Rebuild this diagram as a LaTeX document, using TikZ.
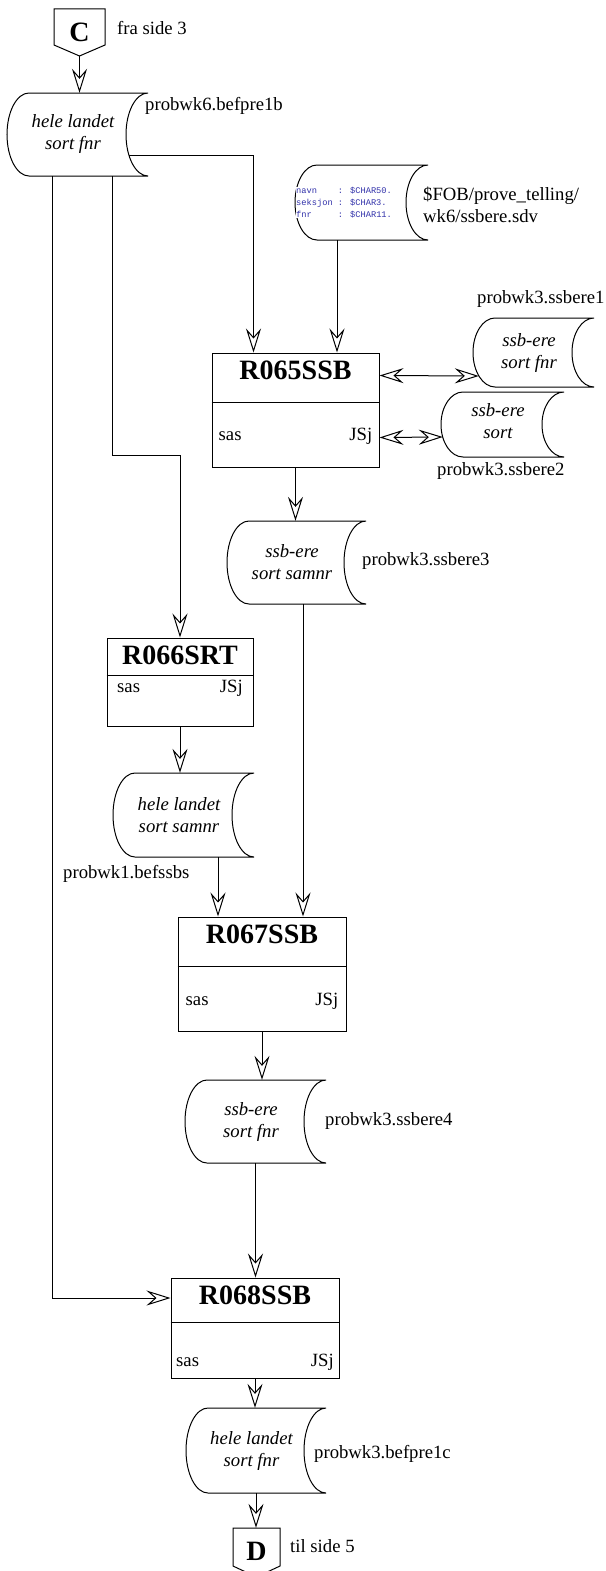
\documentclass[tikz,border=0pt]{standalone}
\usepackage{fontspec}
\setmainfont{Liberation Serif}
\newfontfamily\codefont{Liberation Mono}
\usetikzlibrary{arrows.meta}
\definecolor{codeblue}{RGB}{50,50,170}
\tikzset{
  line/.style={line width=1pt},
  tipstyle/.style={},
  arr/.style={line, -{Stealth[open,length=24pt,width=15pt,inset=8.5pt]}},
  dbl/.style={line, {Stealth[open,length=24pt,width=15pt,inset=8.5pt]}-{Stealth[open,length=24pt,width=15pt,inset=8.5pt]}},
  lbl/.style={font=\fontsize{18.7}{22}\selectfont, inner sep=0, anchor=base west},
  storetext/.style={font=\fontsize{18.7}{22}\selectfont\itshape, align=center, inner sep=0},
  title/.style={font=\fontsize{28}{30}\selectfont\bfseries, inner sep=0, anchor=base},
  procframe/.style={line, draw, inner sep=0},
  region/.style={inner sep=0},
}
% storage outline: name, x left bulge, x right corner, y top, y bottom
\newcommand\storeoutline[5]{%
  \node[region, minimum width={(#3-#2)*1pt}, minimum height={(#5-#4)*1pt}] (#1) at ({(#2+#3)/2},{(#4+#5)/2}) {};
  \draw[line] (#2+22,#4) -- (#3,#4)
    arc[start angle=90,end angle=270,x radius=22pt,y radius={(#5-#4)/2*1pt}]
    -- (#2+22,#5)
    arc[start angle=270,end angle=90,x radius=22pt,y radius={(#5-#4)/2*1pt}]
    -- cycle;
}
% process box: name, xl, xr, yt, yb, ydiv, title, sas baseline, inset
\newcommand\procbox[9]{%
  \node[procframe, minimum width={(#3-#2)*1pt}, minimum height={(#5-#4)*1pt}] (#1) at ({(#2+#3)/2},{(#4+#5)/2}) {};
  \draw[line] (#1.west |- 0,#6) -- (#1.east |- 0,#6);
  \node[title] (#1-title) at ({(#2+#3)/2},#4+26) {#7};
  \node[lbl] (#1-sas) at (#2+#9,#8) {sas};
  \node[lbl, anchor=base east] (#1-jsj) at (#3-#9,#8) {JSj};
}
\begin{document}
\begin{tikzpicture}[x=1pt,y=-1pt]
\useasboundingbox (0,0) rectangle (605,1571);

% off-page connectors
\draw[line] (54,9) -- (105,9) -- (105,45) -- (79.5,56) -- (54,45) -- cycle;
\node[region, minimum width=51pt, minimum height=47pt, font=\fontsize{28}{30}\selectfont\bfseries] (C) at (79.5,32.5) {C};
\draw[line] (233,1528) -- (280,1528) -- (280,1566) -- (256.5,1577) -- (233,1566) -- cycle;
\node[region, minimum width=47pt, minimum height=46pt, font=\fontsize{28}{30}\selectfont\bfseries] (D) at (256.5,1551) {D};

% storages
\storeoutline{S1}{7}{148}{93}{176}
\node[storetext] (S1t) at ([xshift=-4.5pt]S1.center) {hele landet\\sort fnr};
\storeoutline{S0}{295}{428}{165}{240}
\node[font=\codefont\fontsize{8.7}{12}\selectfont, text=codeblue, align=left, inner sep=0, fill=white, anchor=north west] (S0t) at (296,187)
  {navn\ \ \ \ : \$CHAR50.\\seksjon : \$CHAR3.\\fnr\ \ \ \ \ : \$CHAR11.};
\storeoutline{Sss1}{473}{594}{318}{387}
\node[storetext] (Sss1t) at ([xshift=-4.5pt]Sss1.center) {ssb-ere\\sort fnr};
\storeoutline{Sss2}{441}{564}{392}{457}
\node[storetext] (Sss2t) at ([shift={(-4.5pt,3pt)}]Sss2.center) {ssb-ere\\sort};
\storeoutline{S3}{227}{366}{521}{604}
\node[storetext] (S3t) at ([xshift=-4.5pt]S3.center) {ssb-ere\\sort samnr};
\storeoutline{S2}{113}{254}{773}{857}
\node[storetext] (S2t) at ([xshift=-4.5pt]S2.center) {hele landet\\sort samnr};
\storeoutline{S4}{185}{326}{1080}{1163}
\node[storetext] (S4t) at ([xshift=-4.5pt]S4.center) {ssb-ere\\sort fnr};
\storeoutline{S5}{186}{326}{1408}{1493}
\node[storetext] (S5t) at ([xshift=-4.5pt]S5.center) {hele landet\\sort fnr};

% process boxes
\procbox{R065}{212}{379}{353}{467}{402}{R065SSB}{440}{6.5}
\procbox{R066}{107}{253}{638}{726}{675}{R066SRT}{692}{10}
\procbox{R067}{178}{346}{917}{1031}{966}{R067SSB}{1005}{7.5}
\procbox{R068}{171}{339}{1278}{1378}{1322}{R068SSB}{1366}{5}

% labels
\node[lbl] (lC) at (117,35) {fra side 3};
\node[lbl] (lS1) at (145,110) {probwk6.befpre1b};
\node[lbl] (lS0a) at (423,200) {\$FOB/prove\_telling/};
\node[lbl] (lS0b) at (423,222) {wk6/ssbere.sdv};
\node[lbl] (lss1) at (477,303) {probwk3.ssbere1};
\node[lbl] (lss2) at (437,475) {probwk3.ssbere2};
\node[lbl] (lS3) at (362,565) {probwk3.ssbere3};
\node[lbl] (lS2) at (63,878) {probwk1.befssbs};
\node[lbl] (lS4) at (325,1125) {probwk3.ssbere4};
\node[lbl] (lS5) at (314,1458) {probwk3.befpre1c};
\node[lbl] (lD) at (290,1552) {til side 5};

% connectors
\coordinate (S1r) at ([shift={(-19pt,-20.5pt)}]S1.east);
\coordinate (S1a) at ([xshift=34.5pt]S1.south);
\coordinate (S1b) at ([xshift=-25.5pt]S1.south);
\coordinate (S0out) at ([xshift=-24.5pt]S0.south);
\coordinate (S3out) at ([xshift=6.5pt]S3.south);
\coordinate (S2out) at ([xshift=34.5pt]S2.south);
\draw[arr] (C.south) -- (C.south |- S1.north);
\draw[arr] (S1r) -| ([xshift=42pt]R065.north west);
\draw[arr] (S1a) -- ++(0,279) -| (R066.north);
\draw[arr] (S1b) |- ([yshift=30pt]R068.west);
\draw[arr] (S0out) -- (S0out |- R065.north);
\draw[dbl] ([yshift=-23pt]R065.north east) -- ([shift={(6pt,-23.5pt)}]Sss1.west);
\draw[dbl] ([yshift=30pt]R065.south east) -- ([shift={(2pt,-12.5pt)}]Sss2.west);
\draw[arr] (R065.south) -- (R065.south |- S3.north);
\draw[arr] (S3out) -- (S3out |- R067.north);
\draw[arr] (R066.south) -- (R066.south |- S2.north);
\draw[arr] (S2out) -- (S2out |- R067.north);
\draw[arr] (R067.south) -- (R067.south |- S4.north);
\draw[arr] (S4.south) -- (S4.south |- R068.north);
\draw[arr] (R068.south) -- (R068.south |- S5.north);
\draw[arr] (S5.south) -- (S5.south |- D.north);
\end{tikzpicture}
\end{document}
